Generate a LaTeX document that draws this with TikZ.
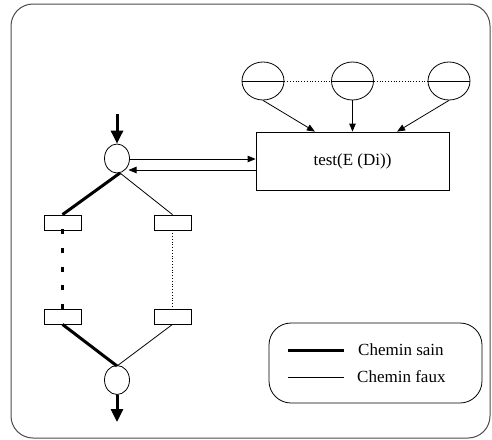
\documentclass[tikz,border=0pt]{standalone}
\usepackage{fontspec}
\setmainfont{Liberation Serif}
\usetikzlibrary{shapes.geometric,arrows.meta,calc}
\begin{document}
\begin{tikzpicture}[x=1pt,y=-1pt,
  thinline/.style={line width=0.8pt},
  thickline/.style={line width=3pt},
  thinarrow/.style={thinline,-{Triangle[length=8pt,width=6.5pt]}},
  thickarrow/.style={thickline,-{Triangle[length=13pt,width=12pt]}},
  place/.style={draw,thinline,ellipse,inner sep=0pt,minimum width=25pt,minimum height=29pt},
  source/.style={draw,thinline,ellipse,inner sep=0pt,minimum width=42pt,minimum height=38pt},
  stage/.style={draw,thinline,rectangle,inner sep=0pt,minimum width=37pt,minimum height=15pt},
  label/.style={font=\fontsize{17}{20}\selectfont,inner sep=0pt}
]
\useasboundingbox (0,0) rectangle (492,439);
% outer frame
\draw[line width=1pt,gray!60!black,rounded corners=22pt] (11,4) rectangle (490,438);

% data sources feeding the test
\node[source] (c1) at (263,81) {};
\node[source] (c2) at (352.5,81) {};
\node[source] (c3) at (449,81) {};
\foreach \c in {c1,c2,c3}{\draw[thinline] (\c.west) -- (\c.east);}
\draw[thinline,dotted] (c1.east) -- (c2.west);
\draw[thinline,dotted] (c2.east) -- (c3.west);

\node[draw,thinline,rectangle,minimum width=193pt,minimum height=58pt,label] (test) at (352.5,161) {test(E (Di))};

\draw[thinarrow] (c1.south) -- ($(test.north west)!0.306!(test.north east)$);
\draw[thinarrow] (c2.south) -- (test.north -| c2);
\draw[thinarrow] (c3.south) -- ($(test.north west)!0.73!(test.north east)$);

% decision node and paths
\node[place] (top) at (117,158.5) {};
\node[place] (bot) at (117,380) {};
\coordinate (in) at (117,114);
\coordinate (out) at (117,422);
\draw[thickarrow] (in) -- (top.north);
\draw[thickarrow] (bot.south) -- (out);

\draw[thinarrow] (top.east |- 0,159) -- (test.west |- 0,159);
\draw[thinarrow] (test.west |- 0,170) -- (128.5,170);

\node[stage] (l1) at (62.5,222.5) {};
\node[stage] (r1) at (172.5,222.5) {};
\node[stage] (l2) at (62.5,316.5) {};
\node[stage] (r2) at (172.5,316.5) {};

\coordinate (tb) at (120,173);
\coordinate (bt) at (117,366);
\draw[thickline] (tb) -- (l1.north);
\draw[thinline] (tb) -- (r1.north);
\draw[thickline,dash pattern=on 5pt off 13.6pt] ([yshift=1pt]l1.south) -- (l2.north);
\draw[thinline,dotted] (r1.south) -- (r2.north);
\draw[thickline] (l2.south) -- (bt);
\draw[thinline] (r2.south) -- (bt);

% legend
\node[draw,thinline,rounded corners=22pt,minimum width=213pt,minimum height=80pt] (legend) at (375.5,363) {};
\coordinate (a1) at (288,350);
\coordinate (a2) at (344,350);
\coordinate (b1) at (288,377);
\coordinate (b2) at (344,377);
\draw[thickline] (a1) -- (a2);
\draw[thinline] (b1) -- (b2);
\node[label,anchor=west] (sain) at (358,350) {Chemin sain};
\node[label,anchor=west] (faux) at (357,377) {Chemin faux};
\end{tikzpicture}
\end{document}
